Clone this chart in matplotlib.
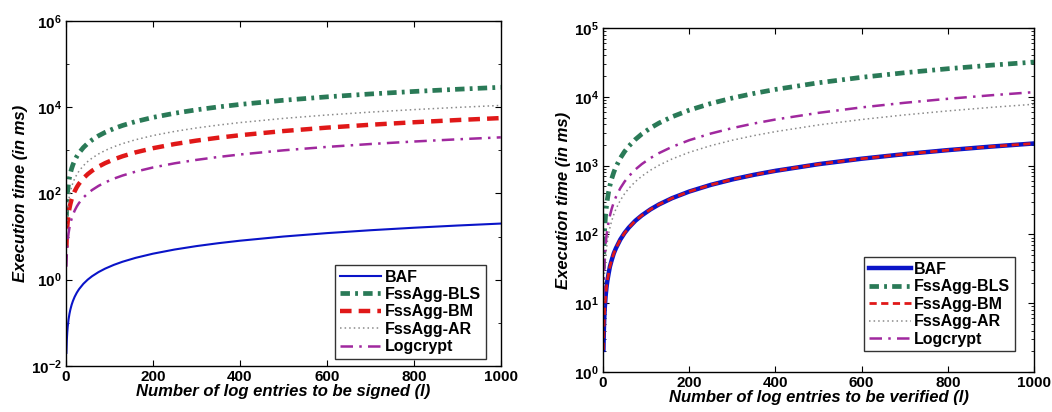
import matplotlib; matplotlib.use('Agg')
import matplotlib.pyplot as plt
from matplotlib.ticker import LogLocator, NullFormatter

# ---- data ----
N = [1, 2, 3, 4, 6, 8, 10, 13, 16, 20, 25, 30, 40, 50, 60, 75, 90, 110, 130,
     160, 200, 250, 300, 350, 400, 500, 600, 700, 800, 900, 1000]

# signing (left panel)
SIGN_BAF = [0.02, 0.04, 0.06, 0.08, 0.12, 0.16, 0.2, 0.26, 0.32, 0.4, 0.5, 0.6,
            0.8, 1.0, 1.2, 1.5, 1.8, 2.2, 2.6, 3.2, 4.0, 5.0, 6.0, 7.0, 8.0,
            10, 12, 14, 16, 18, 20]
SIGN_BLS = [29, 58, 87, 116, 174, 232, 290, 377, 464, 580, 725, 870, 1160, 1450,
            1740, 2175, 2610, 3190, 3770, 4640, 5800, 7250, 8700, 10150, 11600,
            14500, 17400, 20300, 23200, 26100, 29000]
SIGN_BM = [5.6, 11, 17, 22, 34, 45, 56, 73, 90, 112, 140, 168, 224, 280, 336,
           420, 504, 616, 728, 896, 1120, 1400, 1680, 1960, 2240, 2800, 3360,
           3920, 4480, 5040, 5600]
SIGN_AR = [11, 22, 33, 44, 66, 88, 110, 143, 176, 220, 275, 330, 440, 550, 660,
           825, 990, 1210, 1430, 1760, 2200, 2750, 3300, 3850, 4400, 5500, 6600,
           7700, 8800, 9900, 11000]
SIGN_LOG = [2.0, 4.0, 6.0, 8.0, 12, 16, 20, 26, 32, 40, 50, 60, 80, 100, 120,
            150, 180, 220, 260, 320, 400, 500, 600, 700, 800, 1000, 1200, 1400,
            1600, 1800, 2000]

# verification (right panel)
VER_BAF = [2.1, 4.2, 6.3, 8.4, 12.6, 16.8, 21, 27, 34, 42, 53, 63, 84, 105, 126,
           158, 189, 231, 273, 336, 420, 525, 630, 735, 840, 1050, 1260, 1470,
           1680, 1890, 2100]
VER_BLS = [32, 64, 96, 128, 192, 256, 320, 416, 512, 640, 800, 960, 1280, 1600,
           1920, 2400, 2880, 3520, 4160, 5120, 6400, 8000, 9600, 11200, 12800,
           16000, 19200, 22400, 25600, 28800, 32000]
VER_BM = VER_BAF
VER_AR = [7.8, 15.6, 23, 31, 47, 62, 78, 101, 125, 156, 195, 234, 312, 390, 468,
          585, 702, 858, 1014, 1248, 1560, 1950, 2340, 2730, 3120, 3900, 4680,
          5460, 6240, 7020, 7800]
VER_LOG = [11.7, 23, 35, 47, 70, 94, 117, 152, 187, 234, 293, 351, 468, 585, 702,
           878, 1053, 1287, 1521, 1872, 2340, 2925, 3510, 4095, 4680, 5850, 7020,
           8190, 9360, 10530, 11700]

LABELS = ['BAF', 'FssAgg-BLS', 'FssAgg-BM', 'FssAgg-AR', 'Logcrypt']
C_BAF, C_BLS, C_BM, C_AR, C_LOG = '#0a14c8', '#2a7a57', '#e01818', '#8a8a8a', '#a0289e'

plt.rcParams['font.family'] = ['Liberation Sans', 'DejaVu Sans']

fig = plt.figure(figsize=(10.52, 4.12), dpi=100)
fig.patch.set_facecolor('white')
ax1 = fig.add_axes([0.0627, 0.112, 0.4133, 0.837])
ax2 = fig.add_axes([0.5732, 0.097, 0.4097, 0.835])


def draw(ax, baf, bls, bm, ar, lg, baf_lw, bm_lw):
    ax.plot(N, baf, color=C_BAF, lw=baf_lw, ls='-', label=LABELS[0])
    ax.plot(N, bls, color=C_BLS, lw=3.4, ls=(0, (2.0, 1.1, 0.6, 1.1)), label=LABELS[1])
    ax.plot(N, bm, color=C_BM, lw=bm_lw, ls=(0, (2.6, 1.6)), label=LABELS[2])
    ax.plot(N, ar, color=C_AR, lw=1.1, ls=(0, (1, 2)), label=LABELS[3])
    ax.plot(N, lg, color=C_LOG, lw=1.8, ls=(0, (5, 2.5, 1, 2.5)), label=LABELS[4])


def style(ax, ylim, ticks, xlabel, minor):
    ax.set_yscale('log')
    ax.set_xlim(0, 1000)
    ax.set_ylim(*ylim)
    ax.set_yticks(ticks)
    if minor:
        ax.yaxis.set_minor_locator(LogLocator(base=10, subs=range(2, 10)))
    else:
        ax.yaxis.set_minor_locator(LogLocator(base=10, subs=[]))
    ax.yaxis.set_minor_formatter(NullFormatter())
    ax.set_xticks([0, 200, 400, 600, 800, 1000])
    ax.tick_params(which='both', direction='in', top=True, right=True)
    ax.tick_params(which='major', length=4, width=0.8, labelsize=11, pad=3)
    ax.tick_params(which='minor', length=2, width=0.6)
    for lb in ax.get_xticklabels() + ax.get_yticklabels():
        lb.set_fontweight('bold')
    for sp in ax.spines.values():
        sp.set_linewidth(1.0)
    ax.set_xlabel(xlabel, fontsize=12, fontweight='bold', style='italic', labelpad=0)
    ax.set_ylabel('Execution time (in ms)', fontsize=12, fontweight='bold',
                  style='italic', labelpad=2)


draw(ax1, SIGN_BAF, SIGN_BLS, SIGN_BM, SIGN_AR, SIGN_LOG, 1.5, 3.2)
style(ax1, (1e-2, 1e6), [1e-2, 1e0, 1e2, 1e4, 1e6],
      'Number of log entries to be signed (l)', False)
leg1 = ax1.legend(loc='lower right', bbox_to_anchor=(0.965, 0.02), fontsize=11.5,
                  frameon=True, fancybox=False, edgecolor='black', handlelength=2.6,
                  handletextpad=0.2, labelspacing=0.15, borderpad=0.3, borderaxespad=0)
leg1.get_frame().set_linewidth(1.0)
for t in leg1.get_texts():
    t.set_fontweight('bold')

draw(ax2, VER_BAF, VER_BLS, VER_BM, VER_AR, VER_LOG, 3.2, 2.0)
style(ax2, (1e0, 1e5), [1e0, 1e1, 1e2, 1e3, 1e4, 1e5],
      'Number of log entries to be verified (l)', True)
leg2 = ax2.legend(loc='lower right', bbox_to_anchor=(0.955, 0.06), fontsize=11.5,
                  frameon=True, fancybox=False, edgecolor='black', handlelength=2.6,
                  handletextpad=0.2, labelspacing=0.15, borderpad=0.3, borderaxespad=0)
leg2.get_frame().set_linewidth(1.0)
for t in leg2.get_texts():
    t.set_fontweight('bold')

fig.savefig('out.png', dpi=100, facecolor='white')
plt.close(fig)
